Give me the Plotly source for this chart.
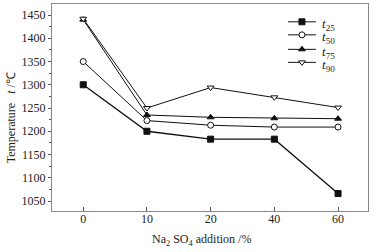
import plotly.graph_objects as go

categories = ["0", "10", "20", "40", "60"]
t25 = [1300, 1200, 1183, 1183, 1066]
t50 = [1350, 1223, 1213, 1209, 1209]
t75 = [1440, 1235, 1230, 1228, 1227]
t90 = [1442, 1250, 1294, 1273, 1251]
names = ["<i>t</i><sub>25</sub>", "<i>t</i><sub>50</sub>", "<i>t</i><sub>75</sub>", "<i>t</i><sub>90</sub>"]
y_ticks = [1050, 1100, 1150, 1200, 1250, 1300, 1350, 1400, 1450]

FONT = "Liberation Serif"
INK = "#111"
fig = go.Figure()
series = [
    (t25, names[0], "square", INK, 1.3),
    (t50, names[1], "circle", "white", 1),
    (t75, names[2], "triangle-up", INK, 1),
    (t90, names[3], "triangle-down", "white", 1),
]
xi = list(range(len(categories)))
for ys, nm, sym, fill, w in series:
    fig.add_trace(go.Scatter(
        x=xi, y=ys, name=nm, mode="lines+markers", showlegend=False,
        line=dict(color=INK, width=w),
        marker=dict(symbol=sym, size=6, color=fill, line=dict(color=INK, width=1)),
    ))

# manual compact legend (overlay axes spanning plot area, range 0..1)
leg_x0, leg_x1, leg_xm, leg_xt = 0.747, 0.835, 0.791, 0.848
leg_rows = [0.914, 0.851, 0.781, 0.718]
for (ys, nm, sym, fill, w), ry in zip(series, leg_rows):
    fig.add_trace(go.Scatter(
        x=[leg_x0, leg_x1], y=[ry, ry], xaxis="x2", yaxis="y2", mode="lines",
        line=dict(color=INK, width=1), showlegend=False, hoverinfo="skip"))
    fig.add_trace(go.Scatter(
        x=[leg_xm], y=[ry], xaxis="x2", yaxis="y2", mode="markers",
        marker=dict(symbol=sym, size=6, color=fill, line=dict(color=INK, width=1)),
        showlegend=False, hoverinfo="skip"))
    fig.add_annotation(x=leg_xt, y=ry, xref="paper", yref="paper", text=nm,
                       showarrow=False, xanchor="left", yanchor="middle", yshift=-3,
                       font=dict(size=13, family=FONT, color="#222"))

fig.update_layout(
    width=381, height=252,
    margin=dict(l=52, r=13, t=4, b=41, autoexpand=False),
    paper_bgcolor="white", plot_bgcolor="white",
    font=dict(family=FONT, size=12, color="#222"),
    showlegend=False,
    xaxis=dict(
        range=[-0.49, 4.47], tickmode="array", tickvals=xi, ticktext=categories,
        showline=True, linecolor="#888", linewidth=1, mirror=True,
        ticks="inside", ticklen=4, tickcolor="#555", showgrid=False, zeroline=False,
        ticklabelstandoff=-3, automargin=False,
        tickfont=dict(size=12, family=FONT),
    ),
    yaxis=dict(
        range=[1028.5, 1473.7], tickvals=y_ticks,
        showline=True, linecolor="#888", linewidth=1, mirror=True,
        ticks="outside", ticklen=3, tickcolor="#555", showgrid=False, zeroline=False,
        automargin=False,
        minor=dict(ticks="outside", ticklen=2, tickcolor="#555", dtick=25, showgrid=False),
        tickfont=dict(size=12, family=FONT),
    ),
    xaxis2=dict(overlaying="x", range=[0, 1], visible=False, fixedrange=True, automargin=False),
    yaxis2=dict(overlaying="y", range=[0, 1], visible=False, fixedrange=True, automargin=False),
)
fig.add_annotation(x=0.472, y=-0.14, xref="paper", yref="paper",
                   text="Na<sub>2</sub> SO<sub>4</sub> addition /%", showarrow=False,
                   xanchor="center", yanchor="middle",
                   font=dict(size=12, family=FONT, color="#222"))
fig.add_annotation(x=-0.127, y=0.452, xref="paper", yref="paper",
                   text="Temperature   <i>t</i> /℃", textangle=-90, showarrow=False,
                   xanchor="center", yanchor="middle",
                   font=dict(size=12, family=FONT, color="#222"))
fig.write_html("out.html", config={"displayModeBar": False},
               post_script="document.body.style.margin='0';document.body.style.overflow='hidden';")
